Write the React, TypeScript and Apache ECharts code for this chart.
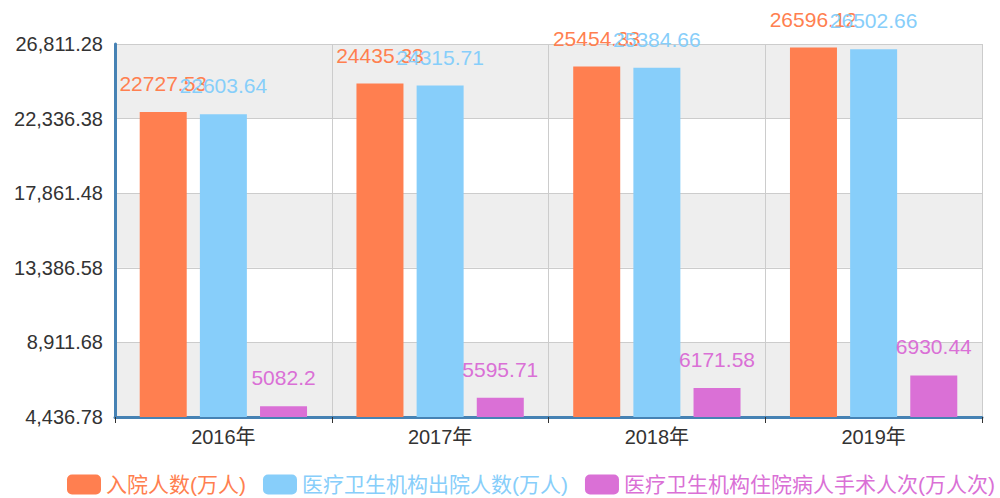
import React, { useEffect, useRef } from "react";
import * as echarts from "echarts";

const categories = ["2016年", "2017年", "2018年", "2019年"];
const admissions = [22727.53, 24435.33, 25454.33, 26596.12];
const discharges = [22603.64, 24315.71, 25384.66, 26502.66];
const surgeries = [5082.2, 5595.71, 6171.58, 6930.44];
const seriesNames = ["入院人数(万人)", "医疗卫生机构出院人数(万人)", "医疗卫生机构住院病人手术人次(万人次)"];
const colors = ["#ff7f50", "#87cefa", "#da70d6"];
const yMin = 4436.78;
const yMax = 26811.28;
const yInterval = 4474.9;

const FONT = "'Liberation Sans', 'Noto Sans CJK SC', sans-serif";

export default function App() {
  const ref = useRef<HTMLDivElement>(null);
  useEffect(() => {
    document.body.style.margin = "0";
    const chart = echarts.init(ref.current!, null, { renderer: "svg" });
    const data = [admissions, discharges, surgeries];
    chart.setOption({
      animation: false,
      textStyle: { fontFamily: FONT },
      grid: { left: 115, right: 18, top: 44, bottom: 81 },
      legend: {
        left: 62,
        bottom: -2,
        itemWidth: 34,
        itemHeight: 20,
        itemGap: 17,
        icon: "roundRect",
        data: seriesNames.map((n, i) => ({
          name: n,
          textStyle: { color: colors[i], fontSize: 21, fontFamily: FONT },
        })),
      },
      xAxis: {
        type: "category",
        data: categories,
        axisLine: { lineStyle: { color: "#4682b4", width: 3 } },
        axisTick: { show: true, length: 6, lineStyle: { color: "#333" } },
        axisLabel: { color: "#333", fontSize: 20, margin: 10 },
        splitLine: { show: true, lineStyle: { color: "#ccc" } },
      },
      yAxis: {
        type: "value",
        min: yMin,
        max: yMax,
        interval: yInterval,
        axisLine: { show: true, lineStyle: { color: "#4682b4", width: 3 } },
        axisTick: { show: false },
        axisLabel: {
          color: "#333",
          fontSize: 20,
          margin: 12,
          formatter: (v: number) =>
            v.toLocaleString("en-US", { minimumFractionDigits: 2, maximumFractionDigits: 2 }),
        },
        splitLine: { show: true, lineStyle: { color: "#ccc" } },
        splitArea: { show: true, areaStyle: { color: ["#eeeeee", "#ffffff"] } },
      },
      series: seriesNames.map((n, i) => ({
        name: n,
        type: "bar",
        data: data[i],
        barWidth: 47,
        barGap: "28%",
        itemStyle: { color: colors[i] },
        label: {
          show: true,
          position: "top",
          distance: 18,
          color: colors[i],
          fontSize: 21,
          fontFamily: FONT,
        },
      })),
    });
    return () => chart.dispose();
  }, []);
  return <div ref={ref} style={{ width: 1000, height: 498 }} />;
}
